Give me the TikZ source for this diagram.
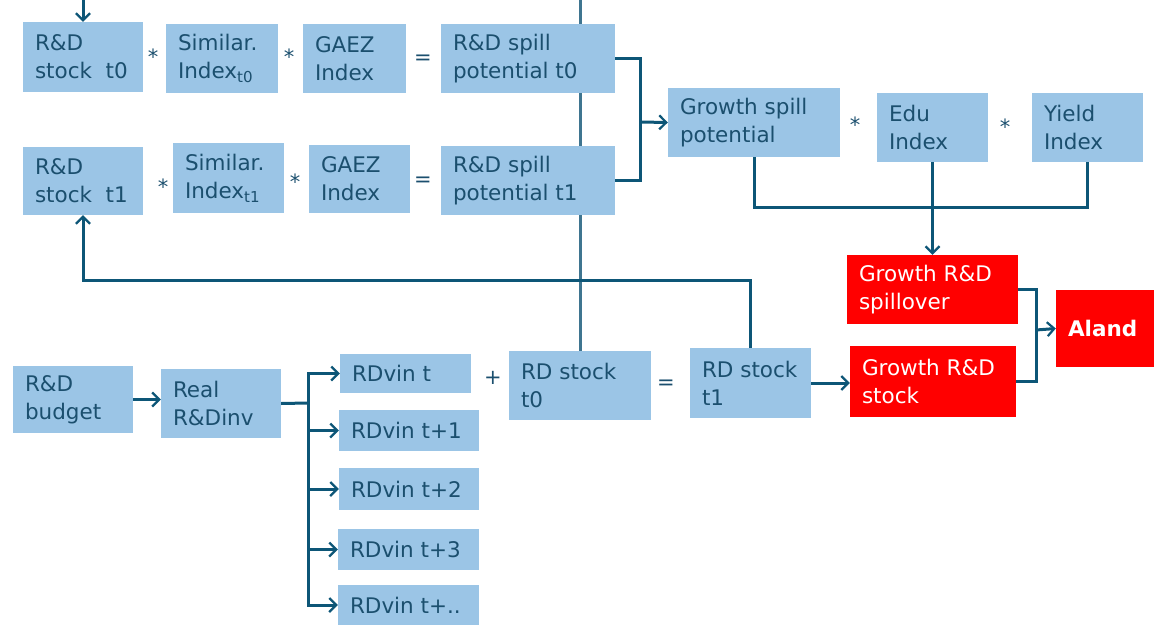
\documentclass[tikz,border=0pt]{standalone}
\usepackage{fontspec}
\setmainfont{DejaVu Sans}
\usetikzlibrary{arrows.meta,backgrounds}
\definecolor{boxblue}{HTML}{9BC5E6}
\definecolor{txtblue}{HTML}{1B4F6E}
\definecolor{lineblue}{HTML}{0D5677}
\definecolor{vline}{HTML}{3F7590}
\definecolor{boxred}{HTML}{FF0000}
\tikzset{
  bluebox/.style={fill=boxblue, draw=none, inner sep=0pt},
  blueboxt/.style={text=txtblue, inner sep=0pt, align=left, font=\fontsize{21.5}{28}\selectfont},
  redbox/.style={fill=boxred, draw=none, inner sep=0pt},
  redboxt/.style={text=white, inner sep=0pt, align=left, font=\fontsize{21.5}{28}\selectfont},
  op/.style={text=txtblue, inner sep=0pt, font=\fontsize{21}{24}\selectfont},
  conn/.style={draw=lineblue, line width=3pt},
  arr/.style={conn, -{Straight Barb[length=7pt,width=14pt,line width=2.2pt]}},
}
\newcommand\bx[7]{%
  \node[#6, minimum width={(#4-#2)*1pt}, minimum height={(#5-#3)*1pt}] (#1) at ({(#2+#4)/2},{(#3+#5)/2}) {};
  \node[#6t, anchor=west] (#1-t) at ([xshift=12pt]#1.west) {#7};}
\begin{document}
\begin{tikzpicture}[x=1pt,y=-1pt]
\useasboundingbox (0,0) rectangle (1154,626);
% top rows
\bx{rds0}{23}{22}{143}{92}{bluebox}{R\&D\\stock\ \ t0}
\bx{sim0}{166}{24}{278}{93}{bluebox}{Similar.\\Index\textsubscript{t0}}
\bx{gaez0}{303}{24}{406}{93}{bluebox}{GAEZ\\Index}
\bx{sp0}{441}{24}{615}{93}{bluebox}{R\&D spill\\potential t0}
\bx{rds1}{23}{147}{143}{215}{bluebox}{R\&D\\stock\ \ t1}
\bx{sim1}{173}{143}{284}{213}{bluebox}{Similar.\\Index\textsubscript{t1}}
\bx{gaez1}{309}{145}{410}{213}{bluebox}{GAEZ\\Index}
\bx{sp1}{441}{146}{615}{215}{bluebox}{R\&D spill\\potential t1}
\node[op] (o1) at (153,57) {*};
\node[op] (o2) at (289,57) {*};
\node[op] (o3) at (423,60) {=};
\node[op] (o4) at (163,187) {*};
\node[op] (o5) at (295,182) {*};
\node[op] (o6) at (423,182) {=};
% right
\bx{gsp}{668}{88}{840}{157}{bluebox}{Growth spill\\potential}
\bx{edu}{877}{93}{988}{162}{bluebox}{Edu\\Index}
\bx{yld}{1032}{93}{1143}{162}{bluebox}{Yield\\Index}
\node[op] (o7) at (855,125) {*};
\node[op] (o8) at (1005,127) {*};
\bx{gsr}{847}{255}{1018}{324}{redbox}{Growth R\&D\\spillover}
\bx{gst}{850}{346}{1016}{417}{redbox}{Growth R\&D\\stock}
\bx{aland}{1056}{290}{1154}{367}{redbox}{\textbf{Aland}}
% bottom
\bx{bud}{13}{366}{133}{433}{bluebox}{R\&D\\budget}
\bx{real}{161}{369}{281}{438}{bluebox}{Real\\R\&Dinv}
\bx{rv0}{340}{354}{471}{393}{bluebox}{RDvin t}
\bx{rv1}{339}{410}{479}{451}{bluebox}{RDvin t+1}
\bx{rv2}{339}{468}{479}{510}{bluebox}{RDvin t+2}
\bx{rv3}{338}{529}{479}{570}{bluebox}{RDvin t+3}
\bx{rv4}{338}{585}{479}{625}{bluebox}{RDvin t+..}
\bx{rdst0}{509}{351}{651}{420}{bluebox}{RD stock\\t0}
\bx{rdst1}{690}{348}{811}{418}{bluebox}{RD stock\\t1}
\node[op] (o9) at (493,378) {+};
\node[op] (o10) at (666,385) {=};
% connectors
\coordinate (topA) at (83,0);
\coordinate (topB) at (580,0);
\coordinate (j1) at (640,122);
\coordinate (j2) at (932,207);
\coordinate (j3) at (1036,330);
\coordinate (j4) at (308,403);
\begin{scope}[on background layer]
\draw[conn, draw=vline, line width=3pt] (topB) -- (rdst0.north);
\end{scope}
\draw[arr] (topA) -- (rds0.north);
\draw[conn] (sp0.east) -| (j1);
\draw[conn] (sp1.east) -| (j1);
\draw[arr] (j1) -- (gsp.west);
\draw[conn] (gsp.south) |- (j2);
\draw[conn] (yld.south) |- (j2);
\draw[arr] (edu.south) -- (gsr.north);
\draw[conn] (gsr.east) -| (j3);
\draw[conn] (gst.east) -| (j3);
\draw[arr] (j3) -- (aland.west);
\draw[arr] (rdst1.north) -- ++(0,-67) -| (rds1.south);
\draw[arr] (bud.east) -- (bud.east -| real.west);
\draw[conn] (real.east) -- (j4);
\foreach \r in {rv0,rv1,rv2,rv3,rv4}{\draw[arr] (j4) |- (\r.west);}
\draw[arr] (rdst1.east) -- (rdst1.east -| gst.west);
\end{tikzpicture}
\end{document}
